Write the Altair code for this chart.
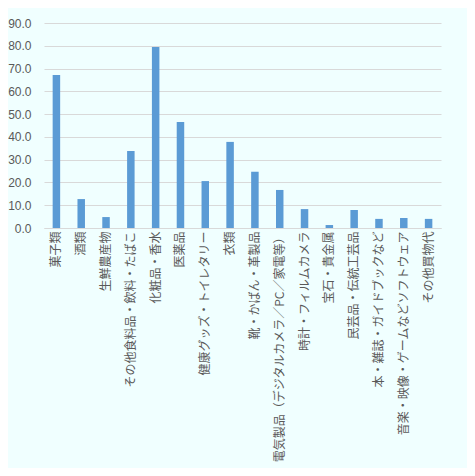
import altair as alt
import pandas as pd

categories = [
    "菓子類", "酒類", "生鮮農産物", "その他食料品・飲料・たばこ", "化粧品・香水",
    "医薬品", "健康グッズ・トイレタリー", "衣類", "靴・かばん・革製品",
    "電気製品（デジタルカメラ／PC／家電等）", "時計・フィルムカメラ", "宝石・貴金属",
    "民芸品・伝統工芸品", "本・雑誌・ガイドブックなど", "音楽・映像・ゲームなどソフトウェア",
    "その他買物代",
]
values = [67.2, 12.7, 4.8, 33.8, 79.5, 46.5, 20.6, 37.8, 24.7, 16.7, 8.3, 1.3, 7.9, 4.0, 4.4, 4.0]

df = pd.DataFrame({"cat": categories, "val": values})

chart = alt.Chart(df).mark_bar(color="#5B9BD5", width=7.5).encode(
    x=alt.X("cat:N", sort=categories, title=None,
            scale=alt.Scale(paddingInner=0, paddingOuter=0),
            axis=alt.Axis(labelAngle=270, labelFontSize=12, labelFont="Noto Sans CJK JP",
                          labelColor="#595959", labelLimit=300, labelOverlap=False,
                          labelPadding=3, ticks=False, domain=True, domainColor="#D9D9D9",
                          grid=False)),
    y=alt.Y("val:Q", title=None,
            scale=alt.Scale(domain=[0, 90], nice=False),
            axis=alt.Axis(values=[0, 10, 20, 30, 40, 50, 60, 70, 80, 90], format=".1f",
                          labelFontSize=12, labelColor="#595959", labelFont="Liberation Sans",
                          ticks=False, domain=False, gridColor="#D9D9D9", labelPadding=13)),
).properties(
    width=397, height=205,
    background="#F0FFFF",
    padding={"left": 36, "top": 15, "right": 26, "bottom": 240},
    autosize=alt.AutoSizeParams(type="none"),
).configure_view(stroke=None)

chart.save("out.html", embed_options={"renderer": "svg", "actions": False})
